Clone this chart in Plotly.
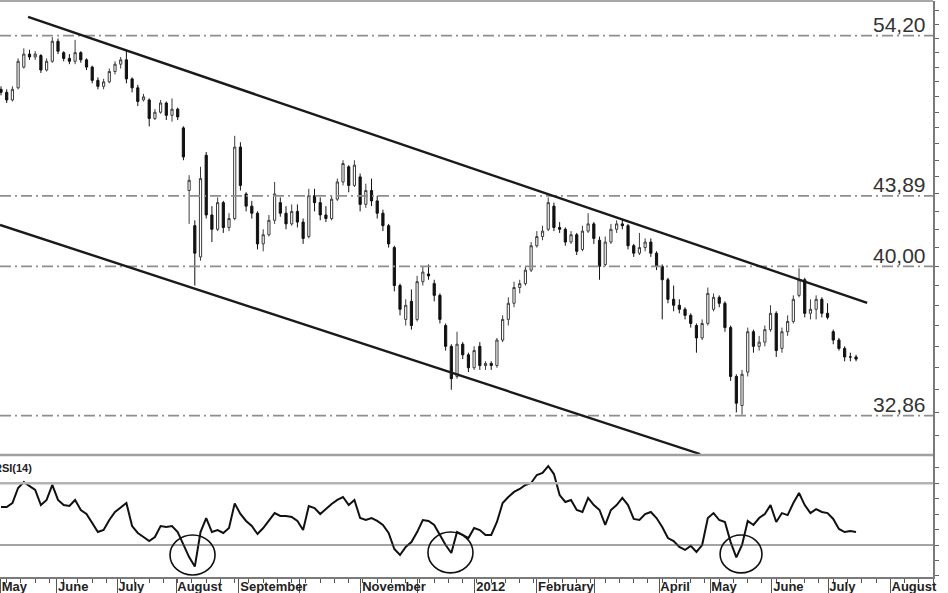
import math
import plotly.graph_objects as go

# ---------------- data ----------------
# one bar per two trading sessions, index counted in trading days from early May 2011
bar_index = list(range(0, 302, 2))

opens = [50.5, 50.3, 49.8, 50.6, 52.0, 52.9, 52.7, 52.8, 51.8, 52.4,
         53.8, 53.0, 52.6, 52.4, 53.0, 52.5, 52.0, 51.1, 50.7, 51.0,
         51.7, 52.2, 52.5, 51.2, 50.6, 49.8, 49.8, 48.6, 49.0, 49.6,
         48.8, 49.2, 48.0, 44.2, 42.2, 40.5, 46.3, 42.8, 42.0, 43.5,
         42.1, 42.6, 46.8, 44.0, 43.3, 42.9, 41.2, 41.7, 42.5, 43.5,
         42.9, 42.3, 43.0, 42.4, 41.6, 43.9, 43.5, 42.8, 42.6, 43.7,
         44.7, 45.6, 44.5, 45.0, 43.4, 44.2, 43.6, 42.9, 42.2, 41.0,
         39.0, 37.3, 38.2, 37.3, 39.2, 39.6, 39.1, 38.5, 37.0, 36.0,
         34.6, 36.1, 35.6, 35.0, 36.0, 35.1, 35.2, 35.1, 36.3, 37.3,
         38.1, 38.9, 39.1, 39.8, 41.1, 41.6, 42.0, 43.3, 42.1, 42.0,
         41.3, 41.7, 40.9, 41.9, 42.3, 41.4, 40.1, 41.3, 42.0, 42.3,
         42.2, 41.1, 40.7, 41.0, 41.3, 40.7, 40.0, 39.3, 38.3, 38.0,
         37.8, 37.5, 37.0, 36.4, 37.1, 37.8, 38.4, 38.1, 36.9, 34.6,
         33.3, 34.8, 36.7, 36.0, 36.2, 36.8, 37.6, 35.9, 36.7, 37.2,
         38.5, 39.3, 37.6, 37.8, 38.3, 37.6, 36.7, 36.3, 35.9, 35.5,
         35.5]
highs = [50.7, 50.5, 50.7, 52.6, 53.3, 53.2, 53.1, 52.9, 52.6, 54.1,
         54.0, 53.1, 52.9, 53.9, 53.1, 52.6, 52.1, 51.3, 51.2, 51.9,
         52.4, 52.7, 53.2, 51.3, 50.8, 50.2, 49.9, 49.2, 49.8, 49.7,
         49.9, 49.3, 48.1, 45.1, 42.5, 45.6, 46.5, 43.3, 43.8, 43.6,
         42.9, 47.5, 47.1, 44.1, 43.6, 43.0, 42.0, 42.8, 44.7, 43.8,
         43.3, 43.4, 43.4, 42.6, 44.3, 44.3, 43.8, 43.3, 43.9, 44.9,
         46.0, 45.7, 46.0, 45.2, 44.6, 44.9, 43.9, 43.1, 42.3, 41.1,
         39.1, 38.3, 38.8, 39.5, 40.0, 40.1, 39.3, 38.6, 37.1, 36.1,
         36.7, 36.2, 35.7, 36.0, 36.2, 35.3, 35.3, 36.4, 37.5, 38.4,
         39.2, 39.3, 40.0, 41.3, 41.9, 42.2, 43.8, 43.5, 42.4, 42.1,
         41.9, 41.8, 42.2, 42.9, 42.4, 41.6, 41.6, 42.3, 42.5, 42.6,
         42.3, 41.2, 41.8, 41.5, 41.5, 40.8, 40.1, 39.4, 39.0, 38.3,
         37.9, 37.6, 37.1, 37.3, 38.9, 38.6, 38.5, 38.2, 37.0, 34.7,
         34.9, 36.9, 36.8, 36.5, 37.0, 38.0, 37.7, 36.9, 37.5, 38.5,
         39.9, 39.4, 38.3, 38.5, 38.4, 38.1, 36.8, 36.4, 36.0, 35.7,
         35.6]
lows = [50.1, 49.6, 49.7, 50.5, 51.9, 52.5, 52.5, 51.6, 51.7, 52.3,
        52.9, 52.4, 52.2, 52.2, 52.3, 51.8, 50.9, 50.5, 50.5, 50.9,
        51.5, 51.9, 50.9, 50.3, 49.4, 49.7, 48.1, 48.5, 48.9, 48.5,
        48.4, 48.5, 46.0, 42.3, 39.0, 40.3, 42.6, 41.3, 41.9, 41.8,
        41.9, 42.5, 44.2, 43.0, 42.6, 40.9, 40.8, 41.6, 42.3, 42.7,
        42.0, 42.2, 42.1, 41.2, 41.5, 43.0, 42.5, 42.4, 42.5, 43.6,
        44.5, 44.1, 44.4, 43.0, 43.2, 43.3, 42.6, 41.9, 41.0, 38.7,
        37.5, 37.0, 36.8, 37.2, 39.0, 39.3, 38.2, 37.1, 35.8, 34.0,
        34.5, 35.4, 34.8, 34.9, 34.9, 34.9, 34.9, 35.0, 36.2, 37.0,
        37.9, 38.6, 39.0, 39.7, 41.0, 41.4, 41.9, 41.9, 41.8, 41.1,
        41.2, 40.6, 40.8, 41.8, 41.2, 39.3, 40.0, 41.2, 41.8, 42.0,
        40.9, 40.5, 40.6, 40.8, 40.5, 39.8, 37.3, 38.1, 37.7, 37.6,
        37.3, 36.9, 35.7, 36.3, 37.0, 37.7, 37.9, 36.7, 34.4, 33.0,
        32.9, 34.6, 35.7, 35.8, 36.0, 36.7, 35.5, 35.7, 36.5, 37.1,
        38.4, 37.4, 37.3, 37.3, 37.4, 37.3, 36.1, 35.8, 35.3, 35.3,
        35.3]
closes = [50.3, 49.8, 50.5, 52.4, 52.9, 52.7, 52.9, 51.8, 52.4, 53.8,
          53.1, 52.6, 52.4, 53.0, 52.5, 52.0, 51.1, 50.7, 51.0, 51.7,
          52.2, 52.5, 51.2, 50.6, 49.7, 50.0, 48.6, 49.0, 49.6, 48.8,
          49.2, 48.7, 46.2, 44.8, 40.7, 44.9, 42.8, 42.0, 43.5, 42.1,
          42.6, 46.8, 44.5, 43.3, 42.9, 41.2, 41.7, 42.5, 44.0, 42.9,
          42.3, 43.0, 42.4, 41.5, 43.9, 43.5, 42.8, 42.6, 43.7, 44.7,
          45.8, 44.5, 45.7, 43.4, 44.2, 43.6, 42.9, 42.2, 41.2, 39.0,
          37.8, 38.0, 37.0, 39.2, 39.7, 39.5, 38.5, 37.3, 36.0, 34.5,
          36.1, 35.6, 35.0, 35.8, 35.1, 35.2, 35.1, 36.3, 37.3, 38.1,
          38.9, 39.1, 39.8, 41.1, 41.6, 41.9, 43.5, 42.1, 42.0, 41.3,
          41.7, 40.8, 41.9, 42.3, 41.5, 40.0, 41.3, 42.0, 42.3, 42.2,
          41.1, 40.7, 41.0, 41.3, 40.7, 40.0, 39.3, 38.3, 38.0, 37.8,
          37.5, 37.1, 36.4, 37.1, 38.6, 38.4, 38.1, 36.9, 34.6, 33.4,
          34.7, 36.7, 36.0, 36.2, 36.8, 37.6, 35.8, 36.7, 37.2, 38.3,
          39.3, 37.6, 37.8, 38.3, 37.6, 37.4, 36.3, 35.9, 35.5, 35.5,
          35.4]

rsi = [54.6, 54.6, 57.2, 67.0, 70.8, 68.3, 65.7, 55.9, 59.2, 69.0,
       59.2, 55.9, 55.3, 59.2, 52.7, 50.1, 44.3, 38.4, 39.7, 46.2,
       51.4, 54.6, 57.2, 42.3, 37.8, 35.2, 32.6, 35.2, 42.3, 41.7,
       42.3, 38.4, 30.6, 22.2, 16.0, 38.4, 47.5, 38.4, 39.7, 37.8,
       41.0, 57.0, 50.1, 45.6, 42.3, 37.1, 41.0, 45.6, 50.7, 48.8,
       48.8, 48.2, 45.6, 39.7, 55.3, 54.0, 50.1, 53.3, 56.6, 59.2,
       61.1, 55.9, 59.2, 47.5, 46.2, 47.5, 45.6, 43.0, 37.8, 27.4,
       23.5, 28.7, 31.9, 38.4, 46.2, 45.6, 43.0, 36.5, 30.0, 24.8,
       38.4, 36.5, 34.5, 41.0, 39.7, 36.5, 36.5, 44.9, 57.2, 61.1,
       64.4, 66.3, 68.9, 70.2, 75.4, 76.7, 81.2, 76.0, 62.4, 57.9,
       59.2, 52.7, 51.4, 60.5, 55.9, 52.7, 43.0, 52.7, 55.9, 60.5,
       55.9, 46.9, 46.2, 50.1, 51.4, 47.5, 41.7, 34.5, 32.6, 28.7,
       26.8, 29.4, 25.5, 30.0, 47.5, 50.7, 46.2, 44.9, 31.9, 22.0,
       30.0, 45.6, 43.0, 47.5, 50.1, 55.9, 44.9, 50.7, 49.4, 57.2,
       63.7, 55.9, 50.7, 53.3, 51.4, 50.7, 46.9, 40.4, 38.4, 39.0,
       38.4]

# horizontal price levels and their labels
levels = [54.20, 43.89, 40.00, 32.86]
level_labels = ["54,20", "43,89", "40,00", "32,86"]

# trend channel (trading-day index, price)
upper_channel_x = [9.5, 303.9]
upper_channel_y = [55.55, 38.12]
lower_channel_x = [-0.35, 245.3]
lower_channel_y = [42.24, 31.24]

# RSI reference levels
rsi_upper_level = 70
rsi_lower_level = 30

# circled RSI lows: (x0, x1, y0, y1) in trading-day index / RSI units
rsi_circles = [(59.3, 75.1, 10.6, 36.5),
               (149.8, 165.6, 11.9, 38.4),
               (252.3, 267.0, 11.9, 36.5)]

# month boundaries (trading-day index) and labels
month_ticks = [-0.2, 19.6, 40.7, 61.4, 83.5, 104.9, 126.3, 146.0, 166.3,
               188.0, 208.4, 230.9, 248.8, 270.5, 290.2, 312.0]
month_labels = ["May", "June", "July", "August", "September", "", "November", "",
                "2012", "February", "", "April", "May", "June", "July", "August"]

# ---------------- figure ----------------
X_RANGE = [-0.35, 327.0]
Y_RANGE = [31.20, 56.73]
RSI_RANGE = [9.26, 88.35]
SPLIT = 0.2118

fig = go.Figure()

for lv in levels:
    fig.add_trace(go.Scatter(
        x=X_RANGE, y=[lv, lv], mode="lines", xaxis="x", yaxis="y",
        line=dict(color="#8e8e8e", width=1.8, dash="11px,4px,2px,4px"),
        hoverinfo="skip", showlegend=False))

fig.add_trace(go.Candlestick(
    x=bar_index, open=opens, high=highs, low=lows, close=closes,
    xaxis="x", yaxis="y", whiskerwidth=0,
    increasing=dict(line=dict(color="#3c3c3c", width=1), fillcolor="#ffffff"),
    decreasing=dict(line=dict(color="#111111", width=1), fillcolor="#111111"),
    showlegend=False))

for cx, cy in [(upper_channel_x, upper_channel_y), (lower_channel_x, lower_channel_y)]:
    fig.add_trace(go.Scatter(
        x=cx, y=cy, mode="lines", xaxis="x", yaxis="y",
        line=dict(color="#1a1a1a", width=2.4), hoverinfo="skip", showlegend=False))

fig.add_trace(go.Scatter(
    x=bar_index, y=rsi, mode="lines", xaxis="x", yaxis="y2",
    line=dict(color="#111111", width=2), showlegend=False))

shapes = [
    dict(type="line", xref="paper", yref="y2", x0=0, x1=1,
         y0=rsi_upper_level, y1=rsi_upper_level, line=dict(color="#b4b4b4", width=2.5)),
    dict(type="line", xref="paper", yref="y2", x0=0, x1=1,
         y0=rsi_lower_level, y1=rsi_lower_level, line=dict(color="#4a4a4a", width=1.2)),
    dict(type="line", xref="paper", yref="paper", x0=0, x1=1, y0=SPLIT, y1=SPLIT,
         line=dict(color="#a0a0a0", width=2.5)),
    dict(type="line", xref="paper", yref="paper", x0=0, x1=1, y0=1, y1=1,
         line=dict(color="#a8a8a8", width=2)),
]
for x0, x1, y0, y1 in rsi_circles:
    shapes.append(dict(type="circle", xref="x", yref="y2", x0=x0, x1=x1, y0=y0, y1=y1,
                       line=dict(color="#111111", width=1.6)))

annotations = []
for lv, txt in zip(levels, level_labels):
    annotations.append(dict(
        text=txt, xref="paper", yref="y", x=0.9946, y=math.log10(lv),
        xanchor="right", yanchor="middle", yshift=11, showarrow=False,
        font=dict(family="Liberation Sans, Arial, sans-serif", size=21, color="#333333")))
annotations.append(dict(
    text="RSI(14)", xref="paper", yref="paper", x=0, y=(577 - 468) / 576,
    xanchor="left", yanchor="middle", xshift=-8, showarrow=False,
    font=dict(family="Liberation Sans, Arial, sans-serif", size=11, color="#222222", weight="bold")))

fig.update_layout(
    width=948, height=593,
    margin=dict(l=0, r=15, t=1, b=16, autoexpand=False),
    paper_bgcolor="white", plot_bgcolor="white",
    showlegend=False, boxgap=0.45,
    shapes=shapes, annotations=annotations,
    xaxis=dict(
        domain=[0, 1], anchor="y2", range=X_RANGE, automargin=False,
        tickmode="array", tickvals=month_ticks, ticktext=month_labels,
        tickangle=0, ticklabeloverflow="allow",
        ticks="outside", ticklen=17, tickwidth=1, tickcolor="#555555",
        ticklabelposition="outside right", ticklabelstandoff=-3,
        tickfont=dict(family="Liberation Sans, Arial, sans-serif", size=13,
                      color="#222222", weight="bold"),
        minor=dict(tickmode="linear", tick0=2, dtick=5, ticks="outside",
                   ticklen=4, tickcolor="#555555", tickwidth=1),
        showline=True, linecolor="#7a7a7a", linewidth=1.5,
        showgrid=False, zeroline=False,
        rangeslider=dict(visible=False)),
    yaxis=dict(
        domain=[SPLIT, 1], anchor="x", type="log", automargin=False,
        range=[math.log10(Y_RANGE[0]), math.log10(Y_RANGE[1])],
        side="right", tickmode="array", tickvals=list(range(31, 57)),
        showticklabels=False, ticks="outside", ticklen=4, tickcolor="#666666",
        showline=True, linecolor="#7a7a7a", linewidth=1.5,
        showgrid=False, zeroline=False),
    yaxis2=dict(
        domain=[0, SPLIT], anchor="x", range=RSI_RANGE, automargin=False,
        side="right", tickmode="array", tickvals=list(range(10, 90, 10)),
        showticklabels=False, ticks="outside", ticklen=4, tickcolor="#666666",
        showline=True, linecolor="#7a7a7a", linewidth=1.5,
        showgrid=False, zeroline=False),
)

fig.write_html("out.html", config={"displayModeBar": False},
               post_script="document.body.style.margin='0';document.body.style.overflow='hidden';")
